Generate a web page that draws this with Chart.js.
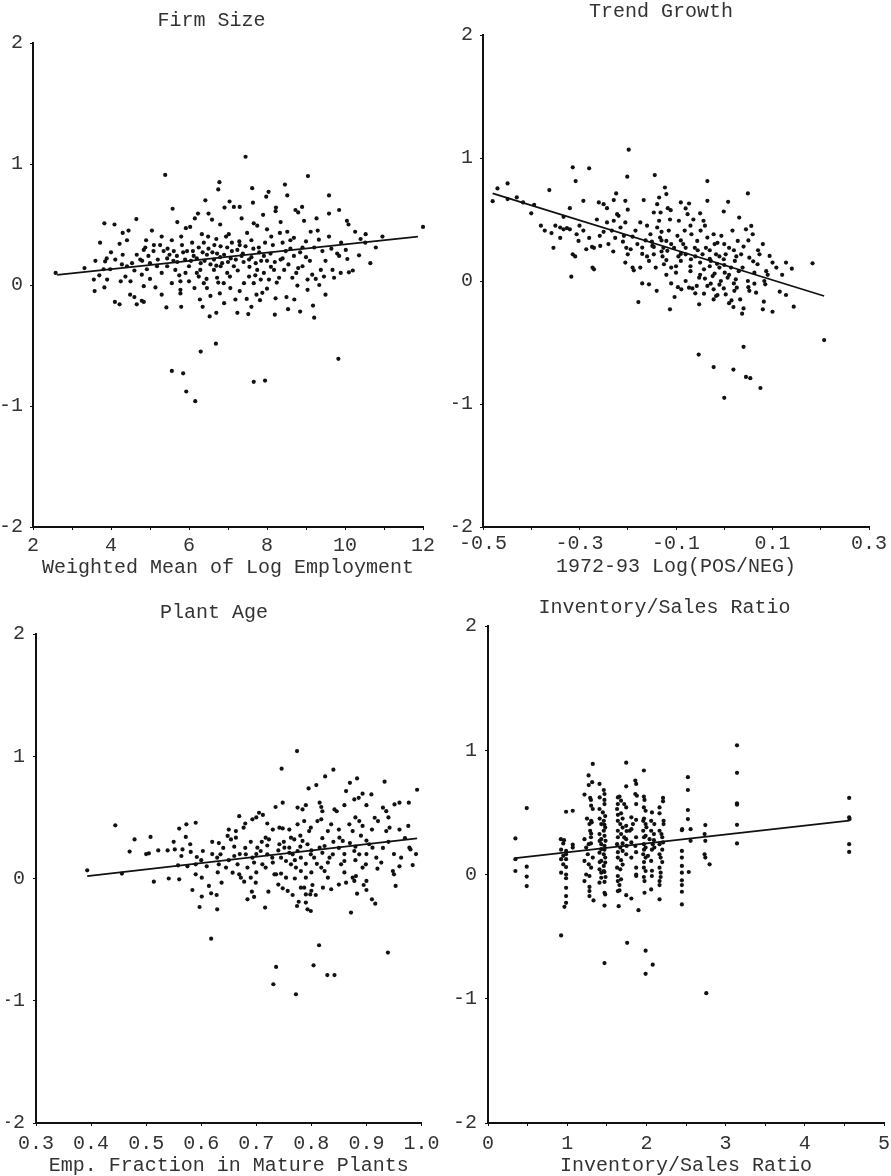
<!DOCTYPE html>
<html>
<head>
<meta charset="utf-8">
<script src="https://cdn.jsdelivr.net/npm/chart.js@4.4.0/dist/chart.umd.min.js"></script>
<style>
  html, body { margin: 0; padding: 0; background: #fff; overflow: hidden; }
  #wrapper { position: relative; width: 891px; height: 1176px; overflow: hidden; background: #fff; }
  canvas { position: absolute; }
</style>
</head>
<body>
<div id="wrapper">
  <canvas id="canvasFirmSize" width="445" height="590" style="left:0;top:0"></canvas>
  <canvas id="canvasTrend" width="446" height="590" style="left:445px;top:0"></canvas>
  <canvas id="canvasPlantAge" width="445" height="590" style="left:0;top:590px"></canvas>
  <canvas id="canvasInventory" width="460" height="590" style="left:445px;top:590px"></canvas>
</div>
<script>
// Titel und Achsenbeschriftungen
const titelListe = ["Firm Size", "Trend Growth", "Plant Age", "Inventory/Sales Ratio"];
const achsenTitelListe = [
  "Weighted Mean of Log Employment",
  "1972-93 Log(POS/NEG)",
  "Emp. Fraction in Mature Plants",
  "Inventory/Sales Ratio",
];
const yTicks = [-2, -1, 0, 1, 2];

// Punkte [x, y]
const firmSizePunkte = [
  [7.45,1.06],[5.39,0.91],[9.05,0.90],[6.78,0.85],[6.75,0.79],[7.62,0.80],[8.46,0.83],[8.04,0.77],
  [7.98,0.73],[8.52,0.74],[9.59,0.74],[6.42,0.70],[7.04,0.69],[7.64,0.68],[9.85,0.62],[5.58,0.63],
  [6.23,0.59],[6.50,0.59],[6.91,0.64],[7.15,0.645],[7.30,0.645],[8.23,0.64],[8.22,0.61],[8.73,0.62],
  [8.80,0.60],[8.90,0.645],[9.59,0.59],[9.27,0.55],[10.05,0.53],[10.09,0.50],[4.65,0.545],[3.83,0.51],
  [4.09,0.50],[12.0,0.48],[6.59,0.54],[6.80,0.50],[5.92,0.47],[6.03,0.48],[7.66,0.51],[7.75,0.49],
  [8.00,0.46],[8.52,0.44],[8.95,0.53],[9.12,0.44],[10.26,0.44],[10.53,0.42],[10.96,0.40],[4.30,0.43],
  [4.41,0.37],[3.72,0.35],[4.22,0.34],[5.56,0.37],[5.80,0.40],[6.33,0.42],[6.49,0.40],[7.02,0.42],
  [7.29,0.36],[7.49,0.43],[8.11,0.40],[8.33,0.43],[8.69,0.39],[9.33,0.375],[9.59,0.40],[10.79,0.31],
  [10.52,0.35],[10.65,0.18],[10.36,0.245],[10.02,0.29],[9.85,0.24],[10.06,0.215],[9.80,0.26],[9.42,0.28],
  [9.21,0.31],[8.91,0.31],[8.69,0.24],[8.48,0.28],[8.35,0.21],[8.09,0.26],[7.92,0.24],[7.79,0.31],
  [7.71,0.18],[7.54,0.21],[7.38,0.26],[7.24,0.29],[7.07,0.22],[6.98,0.31],[6.81,0.32],[6.72,0.26],
  [6.64,0.21],[6.46,0.25],[6.38,0.35],[6.25,0.31],[6.12,0.24],[6.08,0.35],[5.95,0.28],[5.82,0.33],
  [5.69,0.24],[5.61,0.28],[5.44,0.22],[5.35,0.28],[5.26,0.33],[5.09,0.28],[4.96,0.24],[4.84,0.29],
  [4.75,0.21],[4.66,0.25],[4.88,0.31],[4.54,0.18],[4.41,0.155],[4.28,0.17],[4.11,0.21],[3.89,0.22],
  [3.85,0.195],[3.98,0.13],[3.81,0.13],[3.32,0.14],[2.58,0.10],[3.56,0.045],[3.90,0.045],[4.25,0.03],
  [4.37,0.07],[4.50,0.03],[4.79,0.085],[4.92,0.13],[5.18,0.155],[5.44,0.155],[5.56,0.015],[5.65,0.125],
  [5.78,0.03],[5.91,0.10],[6.00,0.155],[6.25,0.07],[6.29,0.125],[6.38,0.015],[6.64,0.125],[6.72,0.06],
  [6.81,0.155],[6.89,0.015],[6.98,0.10],[7.15,0.155],[7.41,0.015],[7.54,0.07],[7.66,0.015],[7.75,0.125],
  [7.84,0.045],[7.92,0.10],[8.05,0.045],[8.18,0.125],[8.31,0.06],[8.44,0.125],[8.65,0.06],[8.91,0.155],
  [9.04,0.045],[9.16,0.085],[9.38,0.125],[9.46,0.07],[9.68,0.125],[9.72,0.06],[10.10,0.105],[9.89,0.10],
  [6.2,0.22],[6.4,0.20],[6.6,0.27],[6.9,0.25],[7.0,0.19],[7.1,0.28],[6.3,0.18],[6.7,0.16],[7.4,0.19],
  [7.6,0.23],[8.0,0.20],[8.2,0.19],[8.6,0.30],[5.7,0.19],[5.5,0.25],[5.2,0.21],[5.0,0.18],[6.8,0.23],
  [7.2,0.21],[6.5,0.30],[7.8,0.27],[5.9,0.21],[6.1,0.28],[7.3,0.33],[8.4,0.35],[5.3,0.40],[4.9,0.37],
  [6.7,0.38],[7.6,0.37],[9.0,0.23],[8.8,0.14],
  [4.3,0.25],[4.6,0.12],[4.8,0.2],[5.0,0.05],[5.1,0.33],[5.3,0.1],[5.45,0.3],[5.6,0.2],[5.75,0.08],
  [5.85,0.27],[6.0,0.03],[6.05,0.2],[6.2,0.1],[6.35,0.27],[6.45,0.05],[6.55,0.17],[6.65,0.33],[6.75,0.02],
  [6.85,0.18],[6.95,0.4],[7.05,0.07],[7.1,0.35],[7.25,0.12],[7.35,0.24],[7.45,0.32],[7.55,0.15],[7.65,0.3],
  [7.7,0.08],[7.85,0.2],[7.95,0.35],[8.1,0.15],[8.15,0.33],[8.25,0.02],[8.4,0.22],[8.55,0.17],[8.6,0.37],
  [8.75,0.1],[8.85,0.27],[9.0,0.36],[9.1,0.2],[9.25,0.05],[9.5,0.2],[9.65,0.3],[9.9,0.35],[10.2,0.12],
  [10.4,0.38],[4.0,0.27],[3.6,0.2],[3.7,0.08],[4.45,0.45],[5.05,0.45],[5.7,0.52],[6.15,0.55],[7.35,0.55],
  [7.9,0.58],[8.35,0.52],[9.3,0.45],
  [3.58,-0.05],[3.83,-0.02],[4.10,-0.14],[4.22,-0.16],[4.49,-0.08],[4.60,-0.10],[4.66,-0.16],[4.79,-0.13],
  [4.84,-0.14],[4.84,-0.01],[5.14,-0.02],[5.42,-0.185],[5.56,-0.71],[5.78,-0.04],[5.78,-0.07],[5.80,-0.18],
  [5.85,-0.73],[5.93,-0.88],[6.16,-0.96],[6.28,-0.12],[6.30,-0.55],[6.14,-0.025],[6.53,-0.26],[6.55,-0.09],
  [6.70,-0.23],[6.69,-0.485],[6.79,-0.07],[6.46,-0.025],[7.06,-0.025],[7.19,-0.12],[7.24,-0.23],[7.30,-0.05],
  [7.48,-0.115],[7.52,-0.24],[7.66,-0.80],[7.73,-0.08],[7.82,-0.125],[7.88,-0.065],[7.95,-0.79],[8.20,-0.245],
  [8.22,-0.11],[8.50,-0.10],[8.54,-0.20],[8.78,-0.005],[8.85,-0.22],[9.04,-0.04],[9.18,-0.17],[9.21,-0.27],
  [9.83,-0.61],[9.34,0.0],[6.9,-0.15],[7.6,-0.18],[5.3,-0.08],[8.0,-0.03],[8.7,-0.12],[6.35,-0.18],[9.5,-0.08],
];
const firmSizeLinie = [[2.62,0.083],[11.87,0.40]];

const trendPunkte = [
  [-0.198,1.068],[-0.314,0.924],[-0.28,0.916],[-0.201,0.848],[-0.144,0.861],[-0.308,0.8125],[-0.035,0.8125],
  [-0.449,0.793],[-0.47,0.753],[-0.48,0.649],[-0.449,0.666],[-0.3625,0.739],[-0.123,0.76],[-0.12,0.707],
  [0.049,0.712],[-0.224,0.712],[-0.292,0.652],[-0.26,0.639],[-0.229,0.658],[-0.205,0.652],[-0.167,0.658],
  [-0.135,0.679],[-0.139,0.625],[-0.117,0.592],[-0.09,0.639],[-0.073,0.63],[-0.035,0.652],[0.008,0.644],
  [-0.001,0.565],[-0.394,0.62],[-0.417,0.639],[-0.32,0.592],[-0.243,0.592],[-0.222,0.543],[-0.333,0.522],
  [-0.146,0.557],[-0.132,0.557],[-0.111,0.576],
  [-0.372,0.41],[-0.358,0.39],[-0.354,0.27],[-0.34,0.435],[-0.34,0.35],[-0.333,0.42],[-0.326,0.43],
  [-0.32,0.42],[-0.317,0.035],[-0.314,0.217],[-0.309,0.2],[-0.306,0.38],[-0.302,0.326],[-0.292,0.41],
  [-0.286,0.258],[-0.274,0.277],[-0.27,0.27],[-0.273,0.109],[-0.27,0.095],[-0.264,0.50],[-0.258,0.367],
  [-0.257,0.285],[-0.25,0.625],[-0.243,0.476],[-0.24,0.30],[-0.233,0.41],[-0.229,0.49],[-0.226,0.35],
  [-0.219,0.53],[-0.215,0.435],[-0.208,0.367],[-0.205,0.476],[-0.203,0.27],[-0.2,0.217],[-0.205,0.15],
  [-0.19,0.109],[-0.1875,0.087],[-0.194,0.258],[-0.184,0.41],[-0.174,0.476],[-0.17,0.272],[-0.174,0.109],
  [-0.163,0.33],[-0.156,0.163],[-0.153,0.38],[-0.149,0.285],[-0.146,0.277],[-0.146,0.217],[-0.142,0.109],
  [-0.139,0.435],[-0.135,0.49],[-0.133,0.353],[-0.128,0.2],[-0.126,0.27],[-0.125,0.136],[-0.12,0.326],
  [-0.118,0.245],[-0.115,0.41],[-0.1125,0.50],[-0.11,0.109],[-0.104,0.27],[-0.1,0.068],[-0.097,0.367],
  [-0.094,0.49],[-0.09,0.163],[-0.085,0.3],[-0.082,0.41],[-0.08,0.217],[-0.076,0.543],[-0.07,0.08],
  [-0.069,0.177],[-0.068,0.38],[-0.064,0.5],[-0.061,0.27],[-0.056,0.326],[-0.052,0.027],[-0.049,0.41],
  [-0.045,0.217],[-0.043,0.49],[-0.042,0.095],[-0.038,0.27],[-0.035,0.353],[-0.028,0.163],[-0.024,0.04],
  [-0.022,0.38],[-0.017,0.217],[-0.014,0.31],[-0.01,0.109],[-0.007,0.0],[-0.006,0.367],[-0.001,0.177],
  [0.001,0.068],[0.003,0.217],[0.007,0.027],[0.01,0.27],[0.014,0.109],[0.017,0.41],[0.022,0.163],
  [0.024,0.014],[0.028,0.326],[0.031,0.516],[0.035,0.217],[0.038,0.109],[0.045,0.42],[0.049,0.0],
  [0.052,0.19],[0.056,0.448],[0.059,0.38],[0.0625,0.068],[0.069,0.136],[0.073,0.217],[0.083,0.0],
  [0.087,0.08],[0.094,0.204],[0.108,0.109],[0.128,0.15],[0.183,0.144],
  [-0.06,0.2],[-0.05,0.15],[-0.03,0.25],[-0.01,0.2],[0.0,0.13],[-0.08,0.27],[-0.11,0.3],[-0.13,0.24],
  [-0.02,0.06],[0.01,0.05],[-0.04,0.02],[0.03,0.08],[-0.07,0.12],[-0.16,0.2],[-0.18,0.3],[-0.09,0.33],
  [0.02,0.25],[-0.12,0.17],
  [-0.05,0.05],[-0.03,0.12],[0.0,0.3],[0.04,0.28],[0.06,0.16],[0.08,0.3],[0.09,0.05],[-0.09,0.22],
  [-0.1,0.12],[-0.12,0.05],[-0.15,0.32],[-0.17,0.22],[-0.19,0.36],[-0.21,0.32],[-0.23,0.24],[-0.25,0.4],
  [-0.28,0.35],[-0.3,0.45],[-0.35,0.45],[-0.38,0.45],[-0.4,0.55],[-0.43,0.68],[-0.07,0.45],[-0.04,0.45],
  [-0.02,0.3],[0.05,0.33],[0.07,0.25],[-0.13,0.4],[-0.16,0.45],[-0.2,0.58],[-0.08,0.59],[-0.05,0.55],
  [0.1,0.15],[0.12,0.05],[0.14,0.1],[-0.03,0.18],[-0.015,0.14],[0.025,0.2],[-0.055,0.25],[-0.095,0.2],
  [-0.13,0.33],
  [-0.178,-0.171],[-0.17,-0.02],[-0.156,-0.027],[-0.14,-0.08],[-0.1125,-0.23],[-0.103,-0.13],[-0.096,-0.05],
  [-0.089,-0.068],[-0.073,-0.054],[-0.066,-0.06],[-0.057,-0.04],[-0.052,-0.19],[-0.042,-0.103],[-0.035,-0.04],
  [-0.028,-0.022],[-0.022,-0.15],[-0.017,-0.122],[-0.014,-0.114],[-0.022,-0.068],[-0.001,-0.06],[0.003,-0.109],
  [0.015,-0.158],[0.019,-0.212],[0.021,-0.08],[0.026,-0.054],[0.033,-0.15],[0.037,-0.266],[0.04,-0.223],
  [0.052,-0.08],[0.066,-0.095],[0.0625,-0.022],[0.08,-0.23],[0.082,-0.168],[0.085,-0.027],[0.1,-0.25],
  [0.115,-0.087],[0.128,-0.114],[0.144,-0.209],[0.207,-0.48],[-0.053,-0.598],[-0.022,-0.70],[0.0,-0.95],
  [0.019,-0.72],[0.04,-0.535],[0.045,-0.78],[0.054,-0.79],[0.075,-0.87],
  [-0.06,-0.1],[0.01,-0.18],[0.05,-0.05],[-0.11,-0.02],[-0.08,0.0],[-0.01,-0.03],[0.02,-0.02],
];
const trendLinie = [[-0.48,0.712],[0.207,-0.122]];

const plantAgePunkte = [
  [0.774,1.042],[0.746,0.898],[0.84,0.89],[0.825,0.835],[0.933,0.792],[0.992,0.726],[0.87,0.783],[0.883,0.819],
  [0.809,0.764],[0.795,0.737],[0.863,0.715],[0.893,0.694],[0.909,0.688],[0.878,0.647],[0.886,0.66],[0.96,0.62],
  [0.951,0.606],[0.977,0.62],[0.815,0.62],[0.818,0.585],[0.842,0.565],[0.846,0.55],[0.735,0.585],[0.748,0.62],
  [0.775,0.58],[0.784,0.565],[0.669,0.51],[0.705,0.538],[0.712,0.52],[0.693,0.484],[0.677,0.416],[0.663,0.388],
  [0.648,0.348],[0.654,0.32],[0.663,0.334],[0.62,0.30],[0.632,0.29],[0.59,0.456],[0.573,0.443],[0.56,0.408],
  [0.572,0.34],[0.444,0.435],[0.479,0.32],[0.508,0.34],[0.505,0.206],[0.522,0.23],[0.539,0.23],[0.552,0.238],
  [0.566,0.238],[0.564,0.184],[0.581,0.217],[0.592,0.176],[0.59,0.116],[0.603,0.225],[0.558,0.108],[0.575,0.10],
  [0.541,0.0],[0.56,-0.007],[0.456,0.04],[0.393,0.067],[0.59,0.034],[0.601,0.007],[0.629,0.17],[0.635,0.198],
  [0.632,0.116],[0.645,0.089],[0.66,0.184],[0.666,0.116],[0.657,0.048],[0.669,0.034],[0.672,0.007],[0.681,0.198],
  [0.693,0.17],[0.684,0.089],[0.69,0.007],[0.702,0.252],[0.708,0.225],[0.696,0.13],[0.711,0.116],[0.717,0.334],
  [0.723,0.32],[0.72,0.198],[0.729,0.17],[0.717,0.089],[0.733,0.034],[0.742,0.28],[0.751,0.252],[0.742,0.416],
  [0.748,0.41],[0.745,0.17],[0.754,0.143],[0.736,0.034],[0.745,0.04],[0.76,0.252],[0.766,0.198],[0.763,0.334],
  [0.769,0.32],[0.763,0.116],[0.772,0.089],[0.754,0.007],[0.775,0.225],[0.781,0.17],[0.775,0.443],[0.787,0.47],
  [0.784,0.307],[0.793,0.28],[0.781,0.061],[0.79,0.007],[0.796,0.388],[0.799,0.416],[0.799,0.198],[0.805,0.17],
  [0.811,0.47],[0.818,0.484],[0.815,0.252],[0.824,0.266],[0.818,0.089],[0.824,0.061],[0.83,0.388],[0.836,0.443],
  [0.833,0.17],[0.839,0.198],[0.83,0.007],[0.851,0.334],[0.857,0.307],[0.854,0.116],[0.86,0.143],[0.869,0.443],
  [0.875,0.388],[0.875,0.007],[0.881,0.02],[0.878,0.225],[0.887,0.198],[0.887,0.47],[0.893,0.43],[0.893,0.089],
  [0.899,0.116],[0.905,0.28],[0.911,0.252],[0.915,0.497],[0.921,0.47],[0.918,0.17],[0.927,0.13],[0.93,0.579],
  [0.936,0.551],[0.936,0.388],[0.942,0.416],[0.948,0.061],[0.95,0.034],[0.96,0.40],[0.976,0.43],[0.963,0.17],
  [0.978,0.252],[0.98,0.238],[0.984,0.11],
  [0.8,0.23],[0.78,0.26],[0.76,0.21],[0.82,0.21],[0.85,0.25],[0.87,0.29],[0.74,0.23],[0.7,0.2],[0.72,0.27],
  [0.88,0.26],[0.9,0.31],[0.84,0.3],[0.77,0.15],[0.73,0.13],[0.81,0.12],[0.86,0.2],[0.68,0.25],[0.66,0.26],
  [0.62,0.2],[0.6,0.15],
  [0.75,0.3],[0.78,0.35],[0.8,0.05],[0.82,0.33],[0.83,0.13],[0.85,0.4],[0.86,0.05],[0.88,0.15],[0.89,0.35],
  [0.9,0.2],[0.91,0.4],[0.92,0.08],[0.94,0.3],[0.95,0.2],[0.97,0.33],[0.76,0.4],[0.79,0.12],[0.73,0.4],
  [0.71,0.3],[0.69,0.3],[0.67,0.2],[0.65,0.15],[0.64,0.25],[0.61,0.1],[0.7,0.05],[0.74,-0.05],[0.77,0.0],
  [0.8,-0.1],[0.85,-0.05],[0.88,0.5],[0.82,0.55],[0.79,0.6],[0.86,0.6],[0.9,0.6],[0.94,0.5],[0.72,0.45],
  [0.68,0.45],[0.7,0.5],[0.65,0.4],[0.55,0.3],[0.5,0.2],[0.47,0.22],[0.58,0.28],[0.63,0.05],[0.9,-0.02],
  [0.93,0.25],[0.96,0.1],[0.99,0.2],
  [0.514,-0.026],[0.584,-0.094],[0.601,-0.148],[0.597,-0.233],[0.614,-0.061],[0.618,-0.121],[0.628,-0.135],
  [0.629,-0.252],[0.618,-0.492],[0.637,-0.034],[0.678,-0.026],[0.699,-0.034],[0.684,-0.17],[0.696,-0.151],
  [0.692,-0.108],[0.716,-0.238],[0.722,-0.108],[0.731,-0.865],[0.736,-0.723],[0.748,-0.08],[0.757,-0.102],
  [0.766,-0.135],[0.772,-0.947],[0.774,-0.225],[0.777,-0.19],[0.781,-0.075],[0.787,-0.075],[0.79,-0.13],
  [0.798,-0.13],[0.808,-0.135],[0.79,-0.197],[0.793,-0.252],[0.799,-0.266],[0.802,-0.053],[0.821,-0.075],
  [0.836,-0.088],[0.804,-0.71],[0.814,-0.546],[0.829,-0.79],[0.842,-0.79],[0.872,-0.279],[0.883,-0.124],
  [0.895,-0.053],[0.9,-0.094],[0.91,-0.17],[0.916,-0.206],[0.939,-0.606],[0.953,-0.061],[0.863,-0.034],
  [0.878,-0.02],
];
const plantAgeLinie = [[0.393,0.02],[0.992,0.328]];

const inventoryPunkte = [
  [0.346,0.29],[0.346,0.123],[0.346,0.028],
  [0.489,0.535],[0.489,0.063],[0.489,-0.017],[0.489,-0.093],
  [0.986,0.505],[1.07,0.513],[0.92,0.284],[0.96,0.276],[0.923,0.2],[0.986,0.19],[0.986,0.163],[0.923,0.123],
  [0.986,0.123],[0.95,0.082],[0.986,0.06],[0.923,0.015],[0.986,0.0],[0.986,-0.03],[1.07,0.24],[1.07,0.217],
  [0.923,-0.49],[0.965,-0.26],[0.986,-0.228],[0.986,-0.174],[0.986,-0.107],[0.95,0.25],[0.95,0.15],
  [1.218,0.643],[1.29,0.616],[1.27,0.797],[1.272,0.72],[1.218,0.284],[1.281,0.406],[1.29,0.352],[1.24,0.217],
  [1.26,0.163],[1.272,0.244],[1.218,0.109],[1.272,0.082],[1.24,0.0],[1.281,-0.012],[1.323,0.89],[1.315,0.743],
  [1.302,0.554],[1.323,0.527],[1.302,0.432],[1.31,0.42],[1.302,0.33],[1.323,0.136],[1.302,0.055],[1.218,-0.053],
  [1.281,-0.1],[1.281,-0.133],[1.281,-0.174],[1.332,-0.209],[1.3,0.6],[1.3,0.25],[1.3,0.3],[1.25,0.45],
  [1.408,0.729],[1.462,0.68],[1.471,0.648],[1.408,0.527],[1.45,0.5],[1.471,0.567],[1.462,0.432],[1.43,0.406],
  [1.48,0.378],[1.408,0.325],[1.471,0.311],[1.43,0.244],[1.471,0.23],[1.408,0.176],[1.462,0.163],[1.43,0.109],
  [1.48,0.096],[1.408,0.042],[1.462,0.028],[1.43,-0.026],[1.48,0.47],[1.462,0.352],[1.43,0.284],[1.484,0.271],
  [1.43,0.204],[1.48,0.136],[1.462,0.069],[1.43,0.015],[1.484,-0.02],[1.408,-0.066],[1.471,-0.06],[1.471,-0.147],
  [1.48,-0.16],[1.471,-0.25],[1.471,-0.713],[1.47,0.6],[1.47,0.02],[1.41,0.1],[1.41,0.45],[1.47,0.4],
  [1.47,0.2],[1.41,0.62],[1.41,0.27],
  [1.745,0.9],[1.745,0.71],[1.66,0.627],[1.68,0.594],[1.639,0.567],[1.72,0.567],[1.745,0.54],[1.63,0.527],
  [1.68,0.492],[1.639,0.432],[1.67,0.406],[1.70,0.378],[1.745,0.392],[1.639,0.352],[1.68,0.325],[1.72,0.298],
  [1.745,0.284],[1.63,0.244],[1.67,0.217],[1.70,0.19],[1.745,0.163],[1.639,0.136],[1.68,0.115],[1.63,0.055],
  [1.67,0.042],[1.639,-0.012],[1.68,-0.039],[1.81,0.46],[1.83,0.406],[1.79,0.352],[1.81,0.258],[1.86,0.23],
  [1.81,0.136],[1.871,0.055],[1.871,0.0],[1.81,0.365],[1.639,-0.053],[1.66,-0.085],[1.639,-0.133],[1.66,-0.128],
  [1.65,-0.255],[1.757,-0.55],[1.745,-0.166],[1.81,-0.193],[1.7,0.45],[1.7,0.25],[1.7,0.08],[1.75,0.35],
  [1.75,0.23],[1.64,0.3],[1.64,0.18],[1.64,0.48],[1.64,0.62],
  [1.86,0.756],[1.871,0.729],[1.86,0.648],[1.88,0.634],[1.871,0.567],[1.968,0.837],[1.968,0.627],[1.976,0.6],
  [1.968,0.54],[1.99,0.513],[1.96,0.432],[1.99,0.406],[1.96,0.352],[1.99,0.311],[1.968,0.244],[1.99,0.217],
  [1.96,0.163],[1.99,0.136],[1.968,0.055],[1.99,0.028],[1.968,-0.02],[1.871,-0.012],[2.069,-0.012],[2.06,0.432],
  [2.10,0.406],[2.06,0.352],[2.095,0.325],[2.08,0.244],[2.10,0.217],[2.04,0.284],[2.095,0.276],[2.02,0.15],
  [2.06,0.109],[1.976,-0.147],[1.99,-0.613],[1.99,-0.799],[2.08,-0.726],[1.90,-0.287],[2.06,-0.12],[1.976,-0.053],
  [1.97,0.45],[1.97,0.3],[1.97,0.2],[1.97,0.1],[2.0,0.38],[2.07,0.5],[2.07,0.2],[2.07,0.03],[1.87,0.3],
  [1.87,0.18],[1.87,0.44],
  [2.21,0.616],[2.21,0.589],[2.166,0.54],[2.166,0.492],[2.217,0.432],[2.217,0.406],[2.166,0.352],[2.19,0.325],
  [2.166,0.244],[2.21,0.258],[2.166,0.163],[2.18,0.136],[2.166,0.055],[2.18,0.015],[2.18,-0.02],[2.166,-0.053],
  [2.166,-0.085],[2.166,-0.2],[2.2,0.3],[2.2,0.2],[2.2,0.1],
  [2.524,0.783],[2.524,0.68],[2.524,0.519],[2.524,0.446],[2.452,0.365],[2.448,0.357],[2.558,0.365],[2.558,0.271],
  [2.448,0.19],[2.448,0.136],[2.448,0.069],[2.448,0.015],[2.535,0.02],[2.448,-0.047],[2.448,-0.085],[2.448,-0.139],
  [2.448,-0.241],
  [2.744,0.398],[2.735,0.325],[2.744,0.271],[2.735,0.163],[2.744,0.136],[2.798,0.082],[2.756,-0.955],
  [3.144,1.04],[3.144,0.818],[3.144,0.573],[3.144,0.562],[3.144,0.40],[3.144,0.25],
  [4.56,0.616],[4.56,0.46],[4.565,0.446],[4.56,0.244],[4.56,0.182],
];
const inventoryLinie = [[0.346,0.131],[4.56,0.433]];

const schwarz = "#111";
const textFarbe = "#333";
const schrift = { family: "'Liberation Mono', 'DejaVu Sans Mono', monospace", size: 20, lineHeight: 1.2 };

function erstelleStreudiagramm(canvasID, punkte, linie, titel, achsenTitel, e) {
  const canvas = document.getElementById(canvasID).getContext("2d");
  return new Chart(canvas, {
    type: "scatter",
    data: {
      datasets: [
        {
          data: punkte.map((p) => ({ x: p[0], y: p[1] })),
          backgroundColor: schwarz,
          borderWidth: 0,
          pointRadius: 2.1,
          clip: false,
        },
        {
          data: linie.map((p) => ({ x: p[0], y: p[1] })),
          showLine: true,
          borderColor: schwarz,
          borderWidth: 1.8,
          pointRadius: 0,
          fill: false,
        },
      ],
    },
    options: {
      responsive: false,
      animation: false,
      events: [],
      layout: {
        padding: { left: e.links, right: e.rechts, top: 0, bottom: 0 },
      },
      plugins: {
        legend: { display: false },
        tooltip: { enabled: false },
        title: {
          display: true,
          text: titel,
          color: textFarbe,
          font: { ...schrift, weight: "normal" },
          padding: { top: e.titelOben, bottom: e.titelUnten },
        },
      },
      scales: {
        x: {
          type: "linear",
          min: e.xMin,
          max: e.xMax,
          afterFit: (s) => { s.height = e.xHoehe; },
          ticks: {
            stepSize: e.xSchritt,
            autoSkip: false,
            maxRotation: 0,
            padding: e.xTickAbstand,
            color: textFarbe,
            font: schrift,
            callback: e.xFormat,
          },
          grid: { drawOnChartArea: false, tickLength: 3, color: schwarz, lineWidth: 1 },
          border: { display: true, color: schwarz, width: 2 },
          title: {
            display: true,
            text: achsenTitel,
            color: textFarbe,
            font: schrift,
            padding: { top: 0, bottom: e.xTitelUnten },
          },
        },
        y: {
          min: yTicks[0],
          max: yTicks[yTicks.length - 1],
          afterFit: (s) => { s.width = e.yBreite; },
          afterBuildTicks: (s) => { s.ticks = yTicks.map((v) => ({ value: v })); },
          ticks: { padding: e.yTickAbstand, color: textFarbe, font: schrift },
          grid: { drawOnChartArea: false, tickLength: 3, color: schwarz, lineWidth: 1 },
          border: { display: true, color: schwarz, width: 2 },
        },
      },
    },
  });
}

window.chartFirm = erstelleStreudiagramm("canvasFirmSize", firmSizePunkte, firmSizeLinie,
  titelListe[0], achsenTitelListe[0], {
    links: 0, rechts: 22, yBreite: 33, xHoehe: 63,
    titelOben: 8.7, titelUnten: 10.3, xTickAbstand: 3.5, xTitelUnten: 10, yTickAbstand: 7,
    xMin: 2, xMax: 12, xSchritt: 1,
    xFormat: (v) => (Math.round(v) % 2 === 0 ? String(v) : ""),
  });

window.chartTrend = erstelleStreudiagramm("canvasTrend", trendPunkte, trendLinie,
  titelListe[1], achsenTitelListe[1], {
    links: 8, rechts: 22, yBreite: 30, xHoehe: 63,
    titelOben: 0, titelUnten: 11, xTickAbstand: 2, xTitelUnten: 11.5, yTickAbstand: 7,
    xMin: -0.5, xMax: 0.3, xSchritt: 0.1,
    xFormat: (v) => (Math.abs(Math.round(v * 10)) % 2 === 1 ? v.toFixed(1) : ""),
  });

window.chartPlant = erstelleStreudiagramm("canvasPlantAge", plantAgePunkte, plantAgeLinie,
  titelListe[2], achsenTitelListe[2], {
    links: 6, rechts: 23, yBreite: 30, xHoehe: 57,
    titelOben: 11, titelUnten: 9, xTickAbstand: 5.5, xTitelUnten: 2, yTickAbstand: 8,
    xMin: 0.3, xMax: 1.0, xSchritt: 0.1,
    xFormat: (v) => v.toFixed(1),
  });

window.chartInventory = erstelleStreudiagramm("canvasInventory", inventoryPunkte, inventoryLinie,
  titelListe[3], achsenTitelListe[3], {
    links: 0, rechts: 21, yBreite: 43, xHoehe: 57,
    titelOben: 5.4, titelUnten: 6.6, xTickAbstand: 5.5, xTitelUnten: 2, yTickAbstand: 8,
    xMin: 0, xMax: 5, xSchritt: 0.5,
    xFormat: (v) => (Math.abs(v - Math.round(v)) < 1e-6 ? String(Math.round(v)) : ""),
  });
</script>
</body>
</html>
